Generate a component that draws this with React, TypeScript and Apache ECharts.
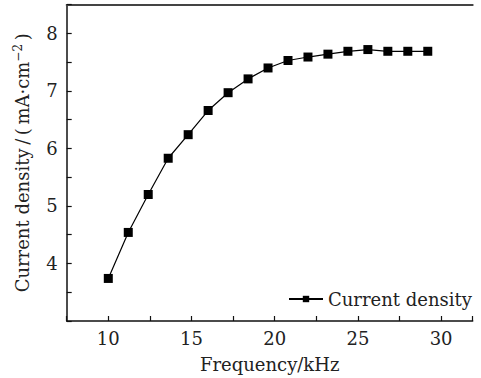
import React, { useEffect, useRef } from "react";
import * as echarts from "echarts";

const frequency = [10, 11.2, 12.4, 13.6, 14.8, 16, 17.2, 18.4, 19.6, 20.8, 22, 23.2, 24.4, 25.6, 26.8, 28, 29.2];
const currentDensity = [3.74, 4.54, 5.2, 5.83, 6.24, 6.66, 6.97, 7.21, 7.4, 7.53, 7.59, 7.64, 7.69, 7.72, 7.69, 7.69, 7.69];
const seriesName = "Current density";
const xTicks = [10, 15, 20, 25, 30];
const yTicks = [4, 5, 6, 7, 8];

const FONT = "DejaVu Serif";
const FS = 18;

export default function App() {
  const ref = useRef<HTMLDivElement>(null);
  useEffect(() => {
    if (!ref.current) return;
    const chart = echarts.init(ref.current, null, { renderer: "svg" });
    const data = frequency.map((f, i) => [f, currentDensity[i]]);
    chart.setOption({
      animation: false,
      backgroundColor: "#ffffff",
      textStyle: { fontFamily: FONT, color: "#222" },
      grid: {
        left: 66.7,
        top: 4.7,
        width: 406,
        height: 317.3,
        containLabel: false,
        show: false,
      },
      legend: {
        left: 283,
        top: 285,
        itemWidth: 34,
        itemHeight: 8,
        itemGap: 6,
        data: [{ name: seriesName }],
        textStyle: { fontFamily: FONT, fontSize: FS, color: "#222" },
      },
      xAxis: [
        {
          type: "value",
          min: 7.5,
          max: 31.9,
          interval: 2.5,
          position: "bottom",
          name: "Frequency/kHz",
          nameLocation: "middle",
          nameGap: 34,
          nameTextStyle: { fontFamily: FONT, fontSize: FS, color: "#222" },
          axisLine: { show: true, onZero: false, lineStyle: { color: "#111", width: 1.5 } },
          axisTick: { show: true, inside: true, length: 5, lineStyle: { color: "#111", width: 1.2 } },
          splitLine: { show: false },
          axisLabel: {
            fontFamily: FONT,
            fontSize: FS,
            color: "#222",
            margin: 8,
            formatter: (v: number) => (xTicks.includes(v) ? String(v) : ""),
          },
        },
        {
          type: "value",
          min: 7.5,
          max: 31.9,
          interval: 2.5,
          position: "top",
          axisLine: { show: true, onZero: false, lineStyle: { color: "#444", width: 2 } },
          axisTick: { show: false },
          axisLabel: { show: false },
          splitLine: { show: false },
        },
      ],
      yAxis: {
        type: "value",
        min: 3,
        max: 8.5,
        interval: 0.5,
        name: "{a|Current density\u2009/\u2009(\u2009mA·cm}{s|−2}{a|\u2009)}",
        nameLocation: "middle",
        nameGap: 33,
        nameRotate: 90,
        nameTextStyle: {
          fontFamily: FONT,
          fontSize: FS,
          color: "#222",
          rich: {
            a: { fontFamily: FONT, fontSize: FS, color: "#222", lineHeight: 22 },
            s: { fontFamily: FONT, fontSize: 12, color: "#222", verticalAlign: "top", lineHeight: 22 },
          },
        },
        axisLine: { show: true, onZero: false, lineStyle: { color: "#111", width: 1.5 } },
        axisTick: { show: true, inside: true, length: 5, lineStyle: { color: "#111", width: 1.2 } },
        splitLine: { show: false },
        axisLabel: {
          fontFamily: FONT,
          fontSize: FS,
          color: "#222",
          margin: 9,
          formatter: (v: number) => (yTicks.includes(v) ? String(v) : ""),
        },
      },
      series: [
        {
          name: seriesName,
          type: "line",
          xAxisIndex: 0,
          data,
          symbol: "rect",
          symbolSize: 9,
          itemStyle: { color: "#000" },
          lineStyle: { color: "#000", width: 1.2 },
        },
      ],
    });
    return () => chart.dispose();
  }, []);
  return (
    <div
      ref={ref}
      style={{ position: "fixed", left: 0, top: 0, width: 481, height: 378, background: "#fff" }}
    />
  );
}
